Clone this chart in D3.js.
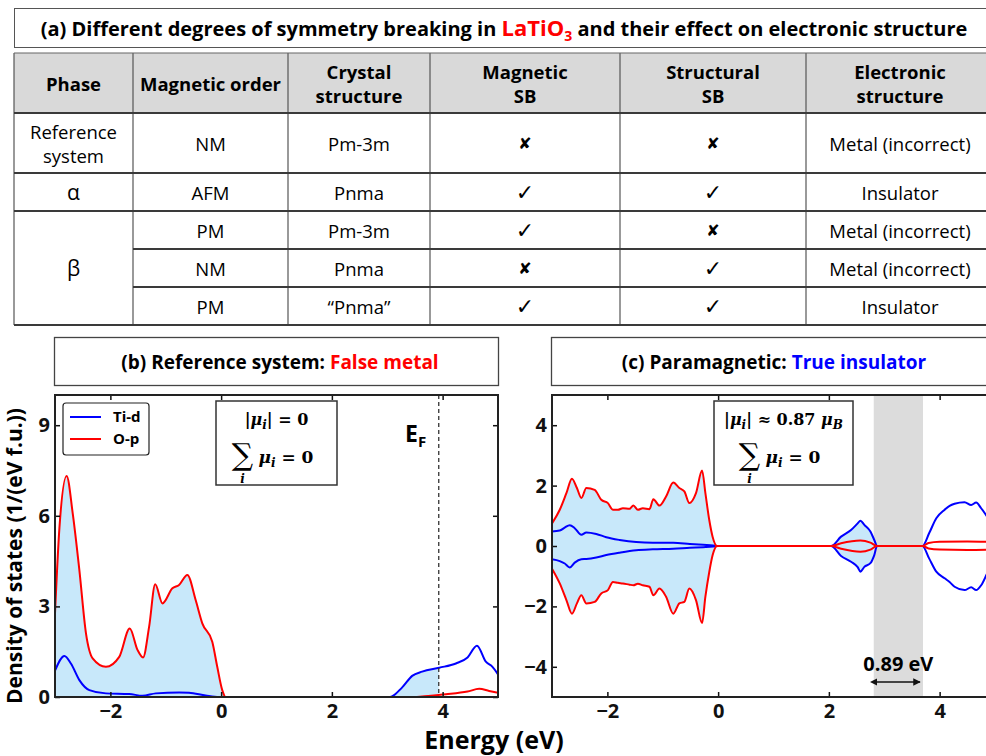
<!DOCTYPE html>
<html lang="en">
<head>
    <title>LaTiO3 symmetry breaking</title>
    <script src="https://d3js.org/d3.v7.min.js"></script>
    <style>
        body { margin: 0; background: #fff; }
        svg { display: block; }
    </style>
</head>
<body>
    <div id="chart"></div>
    <script>

        // ---- table (a) ----
        const headers = [["Phase"], ["Magnetic order"], ["Crystal", "structure"], ["Magnetic", "SB"], ["Structural", "SB"], ["Electronic", "structure"]];
        const phases = [["Reference", "system"], ["α"], ["β"]];
        const phaseSpan = [1, 1, 3];
        const magOrder = ["NM", "AFM", "PM", "NM", "PM"];
        const crystal = ["Pm-3m", "Pnma", "Pm-3m", "Pnma", "“Pnma”"];
        const magSB = [false, true, true, false, true];
        const strucSB = [false, true, false, true, true];
        const electronic = ["Metal (incorrect)", "Insulator", "Metal (incorrect)", "Metal (incorrect)", "Insulator"];

        // ---- panel (b): reference system, DOS ----
        const bTiE = [-3.0, -2.83, -2.71, -2.56, -2.38, -2.08, -1.66, -1.42, -1.18, -0.76, -0.58, -0.28, -0.04, 3.05, 3.27, 3.45, 3.63, 3.94, 4.24, 4.45, 4.62, 4.78, 4.90, 5.0];
        const bTi  = [0.87, 1.36, 1.1, 0.56, 0.23, 0.12, 0.10, 0.04, 0.12, 0.15, 0.14, 0.05, 0, 0, 0.32, 0.70, 0.84, 0.97, 1.11, 1.31, 1.70, 1.17, 1.0, 0.75];
        const bOpE = [-3.0, -2.92, -2.79, -2.68, -2.56, -2.44, -2.32, -2.08, -1.84, -1.65, -1.51, -1.41, -1.30, -1.19, -1.06, -0.88, -0.76, -0.61, -0.46, -0.34, -0.16, -0.07, 0.02, 0.08, 3.5, 3.63, 4.06, 4.45, 4.66, 4.84, 5.0];
        const bOp  = [2.77, 5.6, 7.32, 6.08, 4.2, 2.1, 1.28, 1.0, 1.33, 2.27, 1.56, 1.31, 2.33, 3.73, 3.10, 3.60, 3.71, 4.04, 3.21, 2.44, 1.83, 1.0, 0.23, 0, 0, 0.02, 0.09, 0.18, 0.27, 0.20, 0.14];
        const bFermi = 3.93;

        // ---- panel (c): paramagnetic, spin up / down DOS ----
        const cTiE  = [-3.0, -2.86, -2.77, -2.68, -2.59, -2.47, -2.38, -2.20, -2.02, -1.78, -1.48, -1.18, -0.81, -0.51, -0.27, -0.09, 0.0, 2.04, 2.22, 2.40, 2.52, 2.57, 2.64, 2.75, 2.82, 2.87, 3.69, 3.81, 3.94, 4.09, 4.18, 4.27, 4.45, 4.57, 4.66, 4.75, 4.86, 5.0];
        const cTiUp = [0.48, 0.51, 0.61, 0.69, 0.59, 0.37, 0.45, 0.40, 0.29, 0.20, 0.13, 0.11, 0.11, 0.07, 0.04, 0.02, 0, 0, 0.31, 0.53, 0.75, 0.84, 0.70, 0.48, 0.2, 0, 0, 0.42, 0.92, 1.20, 1.33, 1.40, 1.45, 1.36, 1.44, 1.25, 0.97, 0.6];
        const cTiDn = [-0.44, -0.50, -0.58, -0.71, -0.55, -0.44, -0.43, -0.38, -0.30, -0.22, -0.14, -0.11, -0.09, -0.06, -0.04, -0.02, 0, 0, -0.33, -0.52, -0.70, -0.85, -0.69, -0.57, -0.3, 0, 0, -0.41, -0.85, -1.07, -1.19, -1.35, -1.46, -1.37, -1.46, -1.30, -0.9, -0.4];
        const cOpE  = [-3.0, -2.86, -2.74, -2.64, -2.55, -2.47, -2.38, -2.23, -2.11, -1.99, -1.90, -1.81, -1.72, -1.60, -1.53, -1.45, -1.36, -1.24, -1.17, -1.06, -0.94, -0.81, -0.70, -0.61, -0.52, -0.40, -0.29, -0.23, -0.16, -0.10, -0.02, 2.04, 2.22, 2.57, 2.75, 2.87, 3.69, 3.8, 4.0, 4.5, 5.0];
        const cOpUp = [0.75, 1.2, 1.75, 2.23, 1.92, 1.59, 1.92, 1.86, 1.53, 1.42, 1.2, 1.2, 1.25, 1.23, 1.34, 1.2, 1.25, 1.22, 1.55, 1.34, 1.64, 2.10, 1.92, 1.81, 1.42, 1.75, 2.50, 1.75, 0.86, 0.31, 0, 0, 0.09, 0.18, 0.11, 0, 0, 0.1, 0.14, 0.15, 0.13];
        const cOpDn = [-0.75, -1.24, -1.79, -2.24, -1.90, -1.63, -1.90, -1.85, -1.57, -1.46, -1.19, -1.22, -1.24, -1.28, -1.30, -1.25, -1.30, -1.35, -1.63, -1.41, -1.68, -2.24, -1.90, -1.85, -1.41, -1.79, -2.55, -1.68, -0.86, -0.31, 0, 0, -0.09, -0.19, -0.12, 0, 0, -0.08, -0.12, -0.13, -0.12];
        const cGap = [2.81, 3.70];

        const xTicks = [-2, 0, 2, 4];
        const bYTicks = [0, 3, 6, 9];
        const cYTicks = [-4, -2, 0, 2, 4];

        const RED = "#ff0000", BLUE = "#0000ff", FILL = "#c8e8fa";
        const SANS = "'Open Sans', 'DejaVu Sans', sans-serif";
        const MATH = "'DejaVu Serif', serif";

        const svg = d3.select("#chart").append("svg")
            .attr("width", 986)
            .attr("height", 756)
            .style("font-family", SANS);

        // ================= (a) title + table =================
        svg.append("rect").attr("x", 14.5).attr("y", 8.5).attr("width", 990).attr("height", 39)
            .attr("fill", "#fff").attr("stroke", "#555").attr("stroke-width", 1);
        const titleA = svg.append("text").attr("x", 504).attr("y", 36)
            .attr("text-anchor", "middle")
            .style("font-weight", "bold").style("font-size", "20px");
        titleA.append("tspan").text("(a) Different degrees of symmetry breaking in ");
        titleA.append("tspan").attr("fill", RED).style("font-size", "22px").text("LaTiO");
        titleA.append("tspan").attr("fill", RED).attr("dy", 5).style("font-size", "14px").text("3");
        titleA.append("tspan").attr("dy", -5).text(" and their effect on electronic structure");

        const colEdges = [14, 133, 288, 430, 620, 806, 994];
        const rowEdges = [53, 113, 173, 211, 249, 287, 325];
        const colMid = i => (colEdges[i] + colEdges[i + 1]) / 2;
        const rowMid = i => (rowEdges[i] + rowEdges[i + 1]) / 2;

        const table = svg.append("g").style("font-size", "18.5px");
        table.append("rect").attr("x", 14).attr("y", 53).attr("width", 980).attr("height", 60).attr("fill", "#d9d9d9");

        // header
        headers.forEach((lines, c) => {
            lines.forEach((t, k) => {
                table.append("text").attr("x", colMid(c))
                    .attr("y", rowMid(0) + (k - (lines.length - 1) / 2) * 24)
                    .attr("text-anchor", "middle").attr("dominant-baseline", "central")
                    .style("font-weight", "bold").text(t);
            });
        });

        // phase column (with row spans)
        let r0 = 1;
        phases.forEach((lines, p) => {
            const yMid = (rowEdges[r0] + rowEdges[r0 + phaseSpan[p]]) / 2;
            lines.forEach((t, k) => {
                table.append("text").attr("x", colMid(0))
                    .attr("y", yMid + (k - (lines.length - 1) / 2) * 24)
                    .attr("text-anchor", "middle").attr("dominant-baseline", "central")
                    .style("font-size", lines.length > 1 ? "18.5px" : "21px")
                    .text(t);
            });
            r0 += phaseSpan[p];
        });

        const mark = v => v ? "✓" : "✘";
        magOrder.forEach((m, i) => {
            const cells = [m, crystal[i], mark(magSB[i]), mark(strucSB[i]), electronic[i]];
            cells.forEach((t, k) => {
                const isMark = k === 2 || k === 3;
                table.append("text").attr("x", colMid(k + 1)).attr("y", rowMid(i + 1))
                    .attr("text-anchor", "middle").attr("dominant-baseline", "central")
                    .style("font-family", isMark ? "'DejaVu Sans', sans-serif" : SANS)
                    .style("font-size", isMark ? (t === "✓" ? "22px" : "16px") : "18.5px")
                    .text(t);
            });
        });

        // grid lines
        colEdges.slice(0, -1).forEach(x => {
            table.append("line").attr("x1", x).attr("x2", x).attr("y1", 53).attr("y2", 325)
                .attr("stroke", "#555").attr("stroke-width", 1.2);
        });
        rowEdges.forEach((y, i) => {
            const covered = i === 4 || i === 5; // rows inside the β span
            table.append("line").attr("x1", covered ? colEdges[1] : 14).attr("x2", 994)
                .attr("y1", y).attr("y2", y)
                .attr("stroke", i === 0 ? "#666" : "#3a3a3a").attr("stroke-width", i === 0 ? 1.2 : 2);
        });

        // ================= DOS panels =================
        const plotTop = 395, plotBot = 697;

        function panel(opts) {
            const x = d3.scaleLinear().domain([-3, 5]).range([opts.left, opts.left + 443]);
            const y = d3.scaleLinear().domain(opts.yDomain).range([plotBot, plotTop]);
            const g = svg.append("g");

            // title box
            g.append("rect").attr("x", opts.left - 0.5).attr("y", 337.5).attr("width", 444).attr("height", 48)
                .attr("fill", "#fff").attr("stroke", "#444").attr("stroke-width", 1.3);
            const tt = g.append("text").attr("x", opts.titleX).attr("y", 369)
                .attr("text-anchor", "middle").style("font-weight", "bold").style("font-size", "19px");
            tt.append("tspan").text(opts.title[0]);
            tt.append("tspan").attr("fill", opts.title[2]).text(opts.title[1]);

            const clipId = "clip" + opts.id;
            g.append("clipPath").attr("id", clipId).append("rect")
                .attr("x", opts.left).attr("y", plotTop).attr("width", 443).attr("height", plotBot - plotTop);
            const fillClip = "fclip" + opts.id;
            g.append("clipPath").attr("id", fillClip).append("rect")
                .attr("x", opts.left).attr("y", plotTop)
                .attr("width", x(opts.fillTo) - opts.left).attr("height", plotBot - plotTop);

            const body = g.append("g").attr("clip-path", `url(#${clipId})`);
            return { x, y, g, body, fillClip };
        }

        function series(E, D) { return E.map((e, i) => [e, D[i]]); }

        function drawCurves(p, list) {
            const line = d3.line().x(d => p.x(d[0])).y(d => p.y(d[1])).curve(d3.curveMonotoneX);
            const area = d3.area().x(d => p.x(d[0])).y0(p.y(0)).y1(d => p.y(d[1])).curve(d3.curveMonotoneX);
            const fg = p.body.append("g").attr("clip-path", `url(#${p.fillClip})`);
            list.forEach(s => fg.append("path").attr("d", area(s.data)).attr("fill", FILL));
            return line;
        }

        function axes(p, yTicks) {
            const fmt = d3.format("");
            p.g.append("g").attr("transform", `translate(0,${plotBot})`)
                .call(d3.axisBottom(p.x).tickValues(xTicks).tickSize(-5).tickPadding(7).tickFormat(fmt));
            p.g.append("g").attr("transform", `translate(0,${plotTop})`)
                .call(d3.axisTop(p.x).tickValues(xTicks).tickSize(-5).tickFormat(""));
            p.g.append("g").attr("transform", `translate(${p.x.range()[0]},0)`)
                .call(d3.axisLeft(p.y).tickValues(yTicks).tickSize(-5).tickPadding(5).tickFormat(fmt));
            p.g.append("g").attr("transform", `translate(${p.x.range()[1]},0)`)
                .call(d3.axisRight(p.y).tickValues(yTicks).tickSize(-5).tickFormat(""));
            p.g.selectAll(".domain").remove();
            p.g.selectAll(".tick line").attr("stroke", "#111").attr("stroke-width", 1.5);
            p.g.selectAll(".tick text").style("font-family", SANS).style("font-weight", "bold")
                .style("font-size", "20px").attr("fill", "#111");
            p.g.append("rect").attr("x", p.x.range()[0]).attr("y", plotTop)
                .attr("width", p.x.range()[1] - p.x.range()[0]).attr("height", plotBot - plotTop)
                .attr("fill", "none").attr("stroke", "#222").attr("stroke-width", 2);
        }

        function mathBox(g, x0, y0, w, h, firstLine) {
            g.append("rect").attr("x", x0).attr("y", y0).attr("width", w).attr("height", h)
                .attr("fill", "#fff").attr("stroke", "#333").attr("stroke-width", 1.5);
            const cx = x0 + w / 2;
            const t1 = g.append("text").attr("x", cx).attr("y", y0 + 24).attr("text-anchor", "middle")
                .style("font-family", MATH).style("font-weight", "bold").style("font-size", "16px");
            firstLine.forEach(s => t1.append("tspan").style("font-style", s.it ? "italic" : "normal")
                .attr("dy", s.dy || 0).style("font-size", s.size || null).text(s.t));
            // sum line
            g.append("text").attr("x", cx - 34).attr("y", y0 + 64).attr("text-anchor", "middle")
                .style("font-family", MATH).style("font-size", "30px").text("∑");
            g.append("text").attr("x", cx - 34).attr("y", y0 + 82).attr("text-anchor", "middle")
                .style("font-family", MATH).style("font-style", "italic").style("font-weight", "bold")
                .style("font-size", "12px").text("i");
            const t2 = g.append("text").attr("x", cx - 18).attr("y", y0 + 62)
                .style("font-family", MATH).style("font-weight", "bold").style("font-size", "17px");
            t2.append("tspan").style("font-style", "italic").text("μ");
            t2.append("tspan").style("font-style", "italic").style("font-size", "12px").attr("dy", 4).text("i");
            t2.append("tspan").attr("dy", -4).text(" = 0");
        }

        // ---------- (b) ----------
        const pb = panel({ id: "b", left: 55, yDomain: [0, 10], fillTo: bFermi, titleX: 280,
            title: ["(b) Reference system: ", "False metal", RED] });
        const bSeries = [{ data: series(bOpE, bOp), color: RED }, { data: series(bTiE, bTi), color: BLUE }];
        const lineB = drawCurves(pb, bSeries);
        pb.body.append("path").attr("d", lineB(series(bTiE, bTi))).attr("fill", "none").attr("stroke", BLUE).attr("stroke-width", 2);
        pb.body.append("path").attr("d", lineB(series(bOpE, bOp))).attr("fill", "none").attr("stroke", RED).attr("stroke-width", 2);
        pb.body.append("line").attr("x1", pb.x(bFermi)).attr("x2", pb.x(bFermi))
            .attr("y1", plotTop).attr("y2", plotBot)
            .attr("stroke", "#333").attr("stroke-width", 1.3).attr("stroke-dasharray", "4,3");
        axes(pb, bYTicks);

        const ef = pb.g.append("text").attr("x", 405).attr("y", 442)
            .style("font-weight", "bold").style("font-size", "23px");
        ef.append("tspan").text("E");
        ef.append("tspan").attr("dy", 5).style("font-size", "15px").text("F");

        // legend
        const leg = pb.g.append("g");
        leg.append("rect").attr("x", 63).attr("y", 403).attr("width", 86).attr("height", 52).attr("rx", 3)
            .attr("fill", "#fff").attr("stroke", "#222").attr("stroke-width", 1.2);
        [["Ti-d", BLUE], ["O-p", RED]].forEach((d, i) => {
            leg.append("line").attr("x1", 70).attr("x2", 101).attr("y1", 417 + i * 22).attr("y2", 417 + i * 22)
                .attr("stroke", d[1]).attr("stroke-width", 2);
            leg.append("text").attr("x", 113).attr("y", 422 + i * 22)
                .style("font-weight", "bold").style("font-size", "15px").text(d[0]);
        });

        mathBox(pb.g, 216, 401, 121, 84, [{ t: "|" }, { t: "μ", it: true }, { t: "i", it: true, dy: 4, size: "12px" }, { t: "| = 0", dy: -4 }]);

        // ---------- (c) ----------
        const pc = panel({ id: "c", left: 552, yDomain: [-5, 5], fillTo: cGap[0], titleX: 774,
            title: ["(c) Paramagnetic: ", "True insulator", BLUE] });
        pc.body.append("rect").attr("x", pc.x(cGap[0])).attr("y", plotTop)
            .attr("width", pc.x(cGap[1]) - pc.x(cGap[0])).attr("height", plotBot - plotTop).attr("fill", "#dcdcdc");
        const cSeries = [
            { data: series(cOpE, cOpUp) }, { data: series(cOpE, cOpDn) },
            { data: series(cTiE, cTiUp) }, { data: series(cTiE, cTiDn) }
        ];
        const lineC = drawCurves(pc, cSeries);
        [cTiUp, cTiDn].forEach(D => pc.body.append("path").attr("d", lineC(series(cTiE, D)))
            .attr("fill", "none").attr("stroke", BLUE).attr("stroke-width", 2));
        [cOpUp, cOpDn].forEach(D => pc.body.append("path").attr("d", lineC(series(cOpE, D)))
            .attr("fill", "none").attr("stroke", RED).attr("stroke-width", 2));
        axes(pc, cYTicks);

        mathBox(pc.g, 714, 401, 139, 84, [{ t: "|" }, { t: "μ", it: true }, { t: "i", it: true, dy: 4, size: "12px" },
            { t: "| ≈ 0.87 ", dy: -4 }, { t: "μ", it: true }, { t: "B", it: true, dy: 4, size: "12px" }]);

        // gap annotation
        const defs = svg.append("defs");
        ["start", "end"].forEach(k => {
            defs.append("marker").attr("id", "arr" + k).attr("viewBox", "0 0 10 10")
                .attr("refX", k === "end" ? 9 : 1).attr("refY", 5)
                .attr("markerWidth", 5).attr("markerHeight", 5).attr("orient", "auto-start-reverse")
                .append("path").attr("d", "M0,0 L10,5 L0,10 z").attr("fill", "#111");
        });
        pc.g.append("line").attr("x1", pc.x(cGap[0]) + 3).attr("x2", pc.x(cGap[1]) - 3)
            .attr("y1", 682).attr("y2", 682).attr("stroke", "#111").attr("stroke-width", 1.5)
            .attr("marker-start", "url(#arrstart)").attr("marker-end", "url(#arrend)");
        pc.g.append("text").attr("x", (pc.x(cGap[0]) + pc.x(cGap[1])) / 2).attr("y", 671)
            .attr("text-anchor", "middle").style("font-weight", "bold").style("font-size", "20px").text("0.89 eV");

        // shared axis titles
        svg.append("text").attr("transform", "translate(22,556) rotate(-90)")
            .attr("text-anchor", "middle").style("font-weight", "bold").style("font-size", "21px")
            .text("Density of states (1/(eV f.u.))");
        svg.append("text").attr("x", 494).attr("y", 749).attr("text-anchor", "middle")
            .style("font-weight", "bold").style("font-size", "25px").text("Energy (eV)");

    </script>
</body>
</html>
